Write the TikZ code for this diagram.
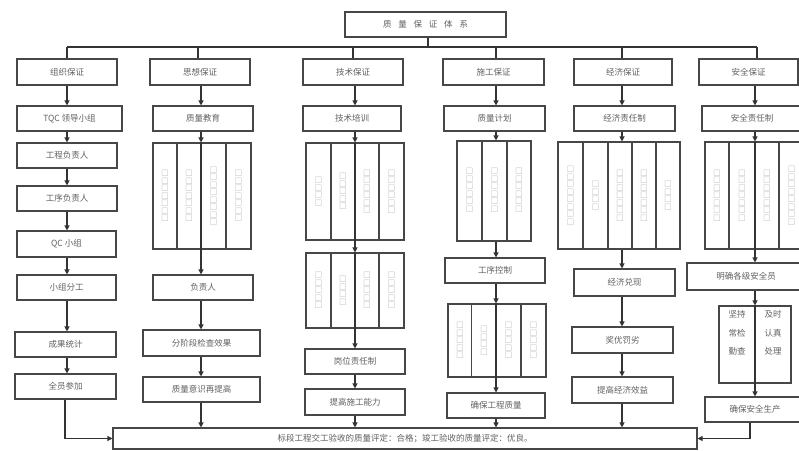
\documentclass[tikz,border=0pt]{standalone}
\usepackage{fontspec}
\newfontfamily\cjk{Noto Sans CJK SC}
\usetikzlibrary{arrows.meta}
\newcommand\rbox[6]{\node[bx, minimum width={(#4-#2)*1pt}, minimum height={(#5-#3)*1pt}] (#1) at ({(#2+#4)/2},{(#3+#5)/2}) {#6};}
\newcommand\rblk[5]{\node[blk, minimum width={(#4-#2)*1pt}, minimum height={(#5-#3)*1pt}] (#1) at ({(#2+#4)/2},{(#3+#5)/2}) {};}
\newcommand\sqs[4]{\node[sq] (#1) at (#2,#3) {\foreach \i in {1,...,#4}{□}};}
\begin{document}
\begin{tikzpicture}[x=1pt,y=-1pt,
 bx/.style={draw=black!72, line width=1.1pt, fill=white, text=black!62, inner sep=0pt, font=\cjk\fontsize{8.5}{10}\selectfont},
 blk/.style={draw=black!72, line width=1.1pt, fill=white, inner sep=0pt},
 dv/.style={draw=black!72, line width=1.1pt},
 sq/.style={rotate=-90, text=black!40, inner sep=0pt, font=\cjk\fontsize{7.5}{7.5}\selectfont},
 txt/.style={text=black!62, inner sep=0pt, align=center, font=\cjk\fontsize{8.5}{18.5}\selectfont},
 ln/.style={draw=black!80, line width=1.1pt},
 arr/.style={ln, -{Triangle[length=5pt,width=5pt]}}]
\useasboundingbox (0,0) rectangle (799,450);
\clip (0,0) rectangle (799,450);
\fill[white] (0,0) rectangle (799,450);

\coordinate (X1) at (67,0);
\coordinate (X2) at (201,0);
\coordinate (X3) at (355,0);
\coordinate (X4) at (496,0);
\coordinate (X5) at (622,0);
\coordinate (X6) at (755,0);
\coordinate (X6b) at (750,0);
\coordinate (T) at (428,47);

% title and level 1
\rbox{title}{345}{12}{506}{37}{质\hspace{0.8em}量\hspace{0.8em}保\hspace{0.8em}证\hspace{0.8em}体\hspace{0.8em}系}
\rbox{a1}{17}{59}{117}{85}{组织保证}
\rbox{b1}{150}{59}{250}{85}{思想保证}
\rbox{c1}{303}{59}{403}{85}{技术保证}
\rbox{d1}{443}{59}{544}{85}{施工保证}
\rbox{e1}{574}{59}{672}{85}{经济保证}
\rbox{f1}{699}{59}{798}{85}{安全保证}

% level 2
\rbox{a2}{17}{106}{122}{131}{TQC 领导小组}
\rbox{b2}{153}{106}{253}{131}{质量教育}
\rbox{c2}{303}{106}{401}{131}{技术培训}
\rbox{d2}{444}{106}{545}{131}{质量计划}
\rbox{e2}{574}{106}{675}{131}{经济责任制}
\rbox{f2}{702}{106}{802}{131}{安全责任制}

% column 1
\rbox{a3}{17}{143}{117}{168}{工程负责人}
\rbox{a4}{17}{186}{117}{211}{工序负责人}
\rbox{a5}{17}{231}{116}{257}{QC 小组}
\rbox{a6}{17}{275}{116}{300}{小组分工}
\rbox{a7}{15}{332}{116}{357}{成果统计}
\rbox{a8}{15}{374}{116}{399}{全员参加}

% column 2
\rblk{b3}{153}{143}{251}{249}
\draw[dv] (177,143) -- (177,249);
\draw[dv] (226,143) -- (226,249);
\sqs{b3a}{165}{196}{7}
\sqs{b3b}{189}{196}{7}
\sqs{b3c}{213.5}{196}{8}
\sqs{b3d}{238.5}{196}{7}
\rbox{b4}{153}{275}{253}{300}{负责人}
\rbox{b5}{143}{330}{260}{356}{分阶段检查效果}
\rbox{b6}{143}{377}{260}{402}{质量意识再提高}

% column 3
\rblk{c3}{306}{143}{404}{240}
\draw[dv] (331,143) -- (331,240);
\draw[dv] (379,143) -- (379,240);
\sqs{c3a}{318.5}{191.5}{4}
\sqs{c3b}{343}{191.5}{5}
\sqs{c3c}{367}{191.5}{6}
\sqs{c3d}{391.5}{191.5}{6}
\rblk{c4}{306}{253}{404}{328}
\draw[dv] (331,253) -- (331,328);
\draw[dv] (379,253) -- (379,328);
\sqs{c4a}{318.5}{290.5}{5}
\sqs{c4b}{343}{290.5}{4}
\sqs{c4c}{367}{290.5}{5}
\sqs{c4d}{391.5}{290.5}{5}
\rbox{c5}{305}{349}{405}{374}{岗位责任制}
\rbox{c6}{305}{389}{405}{415}{提高施工能力}

% column 4
\rblk{d3}{457}{141}{531}{241}
\draw[dv] (482,141) -- (482,241);
\draw[dv] (507,141) -- (507,241);
\sqs{d3a}{469.5}{190}{6}
\sqs{d3b}{494.5}{190}{6}
\sqs{d3c}{519}{190}{6}
\rbox{d4}{445}{258}{545}{283}{工序控制}
\rblk{d5}{448}{304}{546}{377}
\draw[dv] (471.5,304) -- (471.5,377);
\draw[dv] (521,304) -- (521,377);
\sqs{d5a}{460}{340.5}{5}
\sqs{d5b}{484}{340.5}{4}
\sqs{d5c}{508.5}{340.5}{5}
\sqs{d5d}{533.5}{340.5}{5}
\rbox{d6}{447}{393}{545}{418}{确保工程质量}

% column 5
\rblk{e3}{558}{142}{680}{249}
\draw[dv] (583,142) -- (583,249);
\draw[dv] (608,142) -- (608,249);
\draw[dv] (632,142) -- (632,249);
\draw[dv] (656,142) -- (656,249);
\sqs{e3a}{570.5}{195.5}{8}
\sqs{e3b}{595.5}{195.5}{4}
\sqs{e3c}{620}{195.5}{7}
\sqs{e3d}{644}{195.5}{7}
\sqs{e3e}{668}{195.5}{4}
\rbox{e4}{574}{269}{675}{296}{经济兑现}
\rbox{e5}{572}{327}{673}{353}{奖优罚劣}
\rbox{e6}{572}{377}{673}{403}{提高经济效益}

% column 6
\rblk{f3}{705}{142}{804}{249}
\draw[dv] (729,142) -- (729,249);
\draw[dv] (779,142) -- (779,249);
\sqs{f3a}{717}{195.5}{7}
\sqs{f3b}{742}{195.5}{7}
\sqs{f3c}{767}{195.5}{7}
\sqs{f3d}{791.5}{195.5}{8}
\rbox{f4}{687}{263}{805}{290}{明确各级安全员}
\rblk{f5}{719}{306}{791}{383}
\node[txt] (f5l) at (737,333) {坚持\\常检\\勤查};
\node[txt] (f5r) at (773,333) {及时\\认真\\处理};
\rbox{f6}{705}{397}{805}{422}{确保安全生产}

% bottom
\rbox{bot}{113}{428}{697}{449}{标段工程交工验收的质量评定：合格；竣工验收的质量评定：优良。}

% bus
\draw[ln] (title.south -| T) -- (T);
\draw[ln] (X1 |- T) -- (757,47);
\draw[ln] (a1.north) -- (a1.north |- T);
\draw[ln] (b1.north -| 198,0) -- (198,47);
\draw[ln] (c1.north -| 353,0) -- (353,47);
\draw[ln] (d1.north -| X4) -- (X4 |- T);
\draw[ln] (e1.north -| X5) -- (X5 |- T);
\draw[ln] (f1.north -| 757,0) -- (757,47);

% column 1 connectors
\draw[arr] (a1.south -| X1) -- (a2.north -| X1);
\draw[arr] (a2.south -| X1) -- (a3.north -| X1);
\draw[arr] (a3.south -| X1) -- (a4.north -| X1);
\draw[arr] (a4.south -| X1) -- (a5.north -| X1);
\draw[arr] (a5.south -| X1) -- (a6.north -| X1);
\draw[arr] (a6.south -| X1) -- (a7.north -| X1);
\draw[arr] (a7.south -| X1) -- (a8.north -| X1);
\draw[arr] (a8.south -| 65,0) |- (bot.west);

% column 2
\draw[arr] (b1.south -| X2) -- (b2.north -| X2);
\draw[arr] (b2.south -| X2) -- (b3.north -| X2);
\draw[arr] (b3.north -| X2) -- (b4.north -| X2);
\draw[arr] (b4.south -| X2) -- (b5.north -| X2);
\draw[arr] (b5.south -| X2) -- (b6.north -| X2);
\draw[arr] (b6.south -| X2) -- (bot.north -| X2);

% column 3
\draw[arr] (c1.south -| X3) -- (c2.north -| X3);
\draw[arr] (c2.south -| X3) -- (c3.north -| X3);
\draw[arr] (c3.north -| X3) -- (c4.north -| X3);
\draw[arr] (c4.north -| X3) -- (c5.north -| X3);
\draw[arr] (c5.south -| X3) -- (c6.north -| X3);
\draw[arr] (c6.south -| X3) -- (bot.north -| X3);

% column 4
\draw[arr] (d1.south -| X4) -- (d2.north -| X4);
\draw[arr] (d2.south -| X4) -- (d3.north -| X4);
\draw[arr] (d3.south -| X4) -- (d4.north -| X4);
\draw[arr] (d4.south -| X4) -- (d5.north -| X4);
\draw[arr] (d5.north -| X4) -- (d6.north -| X4);
\draw[arr] (d6.south -| X4) -- (bot.north -| X4);

% column 5
\draw[arr] (e1.south -| X5) -- (e2.north -| X5);
\draw[arr] (e2.south -| X5) -- (e3.north -| X5);
\draw[arr] (e3.south -| X5) -- (e4.north -| X5);
\draw[arr] (e4.south -| X5) -- (e5.north -| X5);
\draw[arr] (e5.south -| X5) -- (e6.north -| X5);
\draw[arr] (e6.south -| X5) -- (bot.north -| X5);

% column 6
\draw[arr] (f1.south -| X6) -- (f2.north -| X6);
\draw[arr] (f2.south -| X6) -- (f3.north -| X6);
\draw[arr] (f3.north -| X6) -- (f4.north -| X6);
\draw[arr] (f4.south -| X6) -- (f5.north -| X6);
\draw[arr] (f5.north -| X6) -- (f6.north -| X6);
\draw[arr] (f6.south -| X6b) |- (bot.east);
\end{tikzpicture}
\end{document}
